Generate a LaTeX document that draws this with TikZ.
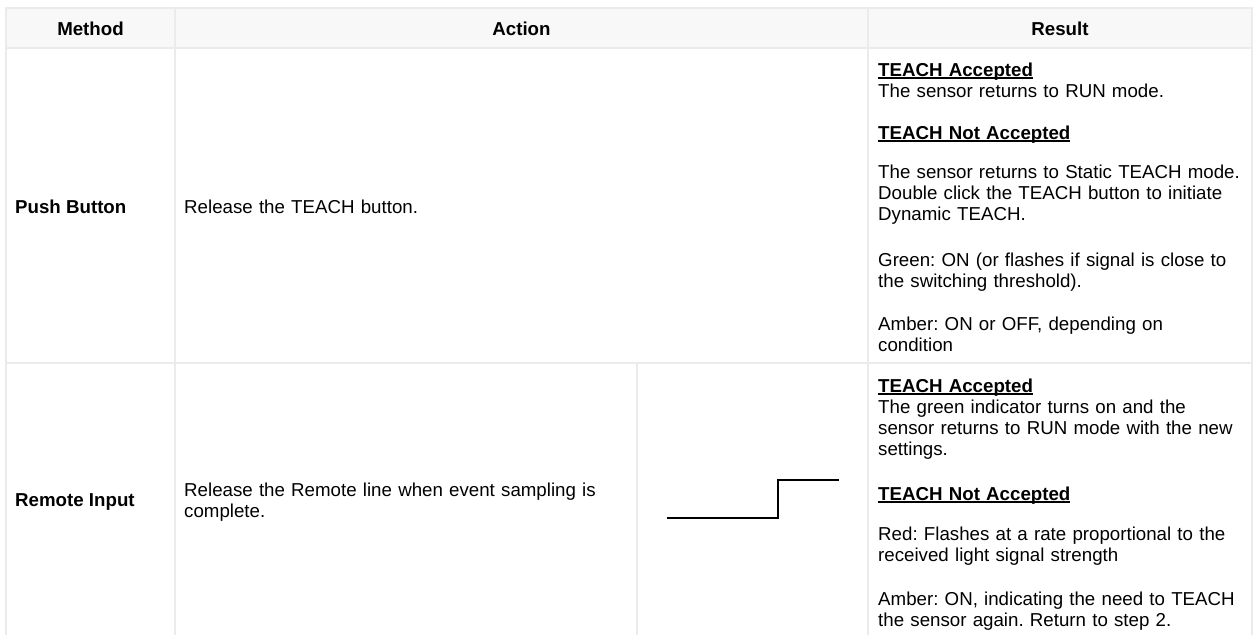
\documentclass[tikz,border=0pt]{standalone}
\usepackage{fontspec}
\setmainfont{Liberation Sans}
\usepackage{tikz}
\definecolor{gridline}{HTML}{EBEBEB}
\definecolor{headfill}{HTML}{F8F8F8}
\newcommand{\teachhead}[1]{\textbf{\setbox0\hbox{#1}\rlap{\rule[-2.8pt]{\wd0}{1.4pt}}\box0}}
\frenchspacing

\begin{document}
\begin{tikzpicture}[x=1pt,y=-1pt,
    every node/.style={inner sep=0pt,font=\fontsize{18.7}{21.2}\selectfont},
    head/.style={anchor=base,font=\fontsize{18.7}{21.2}\selectfont\bfseries},
    method/.style={anchor=base west,font=\fontsize{18.7}{21.2}\selectfont\bfseries},
    action/.style={anchor=base west,text width=440pt,align=left},
    result/.style={anchor=base west,text width=368pt,align=left},
    rule/.style={gridline,line width=2pt}]
    \useasboundingbox (0,0) rectangle (1254,635);
    \fill[headfill] (6,8) rectangle (1252,48);
    \draw[rule] (6,8) -- (1252,8);
    \draw[rule] (6,48) -- (1252,48);
    \draw[rule] (6,363) -- (1252,363);
    \draw[rule] (6,7) -- (6,635);
    \draw[rule] (175,7) -- (175,635);
    \draw[rule] (868,7) -- (868,635);
    \draw[rule] (1252,7) -- (1252,635);
    \draw[rule] (637,363) -- (637,635);

    \node[head] (methodhead) at (90.5,35) {Method};
    \node[head] (actionhead) at (521.5,35) {Action};
    \node[head] (resulthead) at (1060,35) {Result};

    \node[method] (push) at (15,213) {Push Button};
    \node[action] (pushact) at (184,213) {Release the TEACH button.};
    \node[result] (pushacc) at (878,76) {\teachhead{TEACH Accepted}\\The sensor returns to RUN mode.};
    \node[result] (pushnacc) at (878,139) {\teachhead{TEACH Not Accepted}};
    \node[result] (pushstatic) at (878,178) {The sensor returns to Static TEACH mode.\\Double click the TEACH button to initiate\\Dynamic TEACH.};
    \node[result] (pushgreen) at (878,266) {Green: ON (or flashes if signal is close to\\the switching threshold).};
    \node[result] (pushamber) at (878,330) {Amber: ON or OFF, depending on\\condition};

    \node[method] (remote) at (15,506) {Remote Input};
    \node[action] (remoteact) at (184,496) {Release the Remote line when event sampling is\\complete.};
    \draw[line width=2pt] (667,518) -- (778,518) -- (778,480) -- (839,480);
    \node[result] (remoteacc) at (878,392) {\teachhead{TEACH Accepted}\\The green indicator turns on and the\\sensor returns to RUN mode with the new\\settings.};
    \node[result] (remotenacc) at (878,500) {\teachhead{TEACH Not Accepted}};
    \node[result] (remotered) at (878,540) {Red: Flashes at a rate proportional to the\\received light signal strength};
    \node[result] (remoteamber) at (878,605) {Amber: ON, indicating the need to TEACH\\the sensor again. Return to step 2.};
\end{tikzpicture}
\end{document}
